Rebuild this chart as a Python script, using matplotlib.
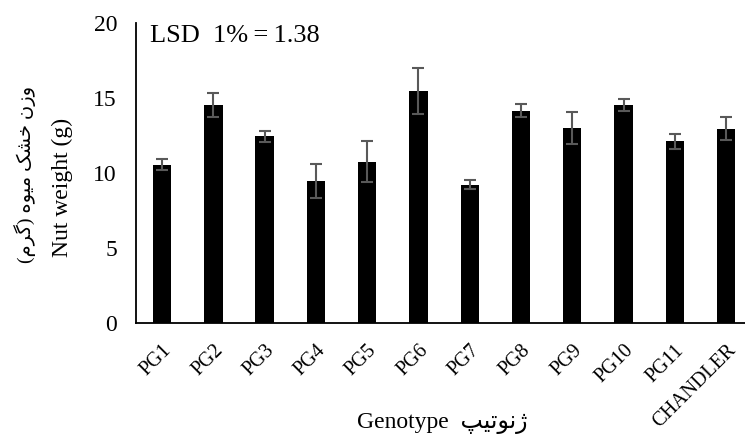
import matplotlib
matplotlib.use('Agg')
import matplotlib.pyplot as plt
import numpy as np

# data
genotypes = ['PG1', 'PG2', 'PG3', 'PG4', 'PG5', 'PG6', 'PG7', 'PG8', 'PG9', 'PG10', 'PG11', 'CHANDLER']
nut_weight = [10.55, 14.5, 12.45, 9.45, 10.75, 15.45, 9.2, 14.15, 12.97, 14.52, 12.1, 12.95]
erreur = [0.38, 0.8, 0.38, 1.15, 1.38, 1.52, 0.3, 0.42, 1.07, 0.39, 0.5, 0.78]
lsd_texte = 'LSD  1%\u2009=\u20091.38'

# persian text, written in visual order with presentation forms
# (matplotlib does no arabic shaping / bidi)
fa_genotype = '\uFB57\uFBFF\uFE97\uFEEE\uFEE7\uFB8A'   # ژنوتیپ
fa_ylabel = ('(\uFEE1\uFEAE\uFB94) '                     # (گرم)
             '\uFEE9\uFEEE\uFBFF\uFEE3 '                 # میوه
             '\uFB8F\uFEB8\uFEA7 '                       # خشک
             '\uFEE5\uFEAF\uFEED')                       # وزن

plt.rcParams['font.family'] = ['Liberation Serif', 'DejaVu Sans']

fig = plt.figure(figsize=(7.45, 4.34), dpi=100)
ax = fig.add_axes([0.1832, 0.2558, 0.8258, 0.6912])

x = np.arange(len(genotypes))
ax.bar(x, nut_weight, width=0.36, color='black', zorder=2)
ax.errorbar(x, nut_weight, yerr=erreur, fmt='none', ecolor='#595959',
            elinewidth=1.5, capsize=4.5, capthick=1.5, zorder=3)

ax.set_xlim(-0.5, len(genotypes) - 0.5)
ax.set_ylim(0, 20)
ax.set_yticks([0, 5, 10, 15, 20])
ax.set_xticks(x)
ax.set_xticklabels(genotypes)
plt.setp(ax.get_xticklabels(), rotation=45, ha='right', va='top',
         rotation_mode='anchor', fontsize=14.5)
ax.tick_params(axis='y', length=0, pad=14, labelsize=17)
ax.tick_params(axis='x', length=0, pad=13)

for s in ['top', 'right']:
    ax.spines[s].set_visible(False)
for s in ['left', 'bottom']:
    ax.spines[s].set_linewidth(1.3)
    ax.spines[s].set_color('black')

ax.text(0.022, 0.937, lsd_texte, transform=ax.transAxes, fontsize=19,
        va='baseline', ha='left')

fig.text(0.0336, 0.597, fa_ylabel, rotation=90, ha='center', va='center', fontsize=14)
fig.text(0.0832, 0.569, 'Nut weight (g)', rotation=90, ha='center', va='center', fontsize=17)
fig.text(0.594, 0.014, 'Genotype  ' + fa_genotype, ha='center', va='baseline', fontsize=17)

fig.savefig('out.png', dpi=100)
